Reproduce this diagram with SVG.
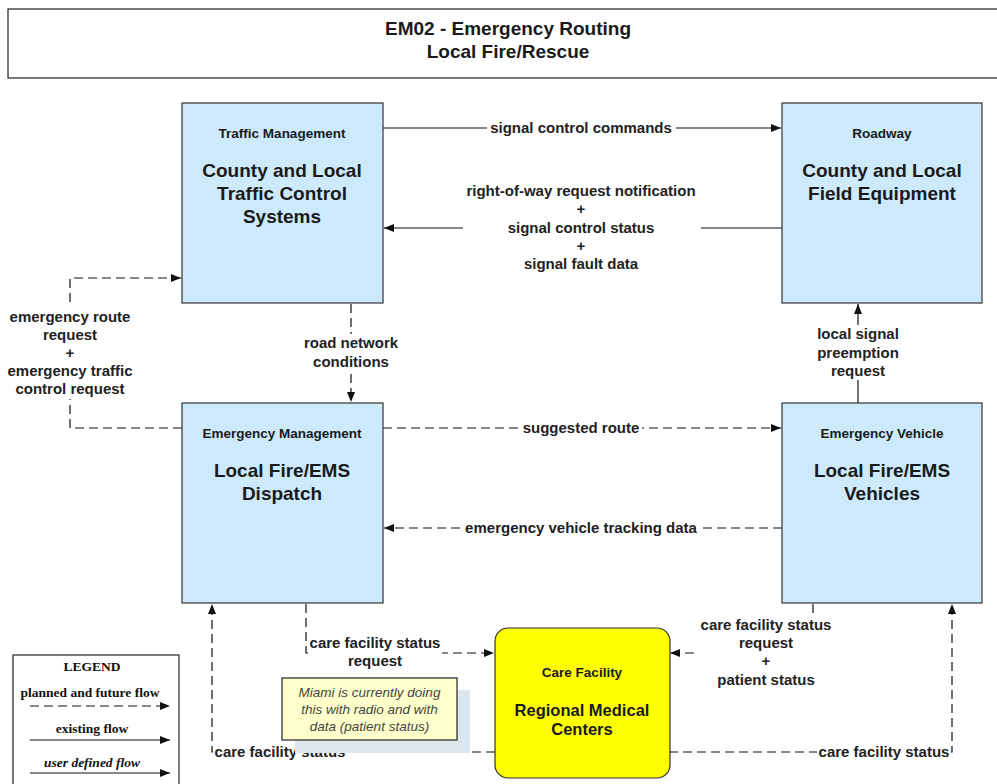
<svg xmlns="http://www.w3.org/2000/svg" width="997" height="784" viewBox="0 0 997 784">
<style>
.node{fill:#cdeafc;stroke:#333;stroke-width:1.2}
.t{font-family:"Liberation Sans",Arial,sans-serif;font-weight:bold;fill:#1a1a1a;text-anchor:middle}
.small{font-size:13.5px}
.big{font-size:19px}
.lbl{font-size:15px;fill:#222}
.ln{fill:none;stroke:#111;stroke-width:1.2}
.dash{stroke-dasharray:9 5}
.bg{fill:#fff}
.leg{font-family:"Liberation Serif","Times New Roman",serif;font-weight:bold;font-size:13.5px;fill:#111;text-anchor:middle}
</style>
<defs>
<marker id="ah" markerWidth="10" markerHeight="8" refX="10" refY="4" orient="auto" markerUnits="userSpaceOnUse">
<path d="M0,0 L10,4 L0,8 z" fill="#111"/>
</marker>
</defs>
<rect width="997" height="784" fill="#fff"/>

<g id="title">
<rect x="8" y="9" width="1000" height="69" fill="#fff" stroke="#222" stroke-width="1.2"/>
<text class="t big" x="508" y="35">EM02 - Emergency Routing</text>
<text class="t big" x="508" y="58">Local Fire/Rescue</text>
</g>

<g id="connectors">
<!-- signal control commands -->
<line class="ln" x1="383" y1="128" x2="781" y2="128" marker-end="url(#ah)"/>
<rect class="bg" x="487" y="119" width="189" height="18"/>
<text class="t lbl" x="581" y="133">signal control commands</text>
<!-- right-of-way -->
<line class="ln" x1="782" y1="228" x2="384" y2="228" marker-end="url(#ah)"/>
<rect class="bg" x="463" y="181" width="238" height="92"/>
<text class="t lbl" x="581" y="196">right-of-way request notification</text>
<text class="t lbl" x="581" y="214">+</text>
<text class="t lbl" x="581" y="233">signal control status</text>
<text class="t lbl" x="581" y="251">+</text>
<text class="t lbl" x="581" y="269">signal fault data</text>
<!-- road network conditions -->
<line class="ln dash" x1="351" y1="304" x2="351" y2="402" marker-end="url(#ah)"/>
<rect class="bg" x="302" y="334" width="98" height="38"/>
<text class="t lbl" x="351" y="348">road network</text>
<text class="t lbl" x="351" y="367">conditions</text>
<!-- emergency route request -->
<polyline class="ln dash" points="182,428 70,428 70,278 181,278" marker-end="url(#ah)"/>
<rect class="bg" x="4" y="305" width="132" height="94"/>
<text class="t lbl" x="70" y="322">emergency route</text>
<text class="t lbl" x="70" y="340">request</text>
<text class="t lbl" x="70" y="358">+</text>
<text class="t lbl" x="70" y="376">emergency traffic</text>
<text class="t lbl" x="70" y="394">control request</text>
<!-- suggested route -->
<line class="ln dash" x1="383" y1="428" x2="781" y2="428" marker-end="url(#ah)"/>
<rect class="bg" x="520" y="419" width="122" height="18"/>
<text class="t lbl" x="581" y="433">suggested route</text>
<!-- emergency vehicle tracking data -->
<line class="ln dash" x1="782" y1="528" x2="384" y2="528" marker-end="url(#ah)"/>
<rect class="bg" x="462" y="519" width="238" height="18"/>
<text class="t lbl" x="581" y="533">emergency vehicle tracking data</text>
<!-- local signal preemption request -->
<line class="ln" x1="858" y1="403" x2="858" y2="304" marker-end="url(#ah)"/>
<rect class="bg" x="812" y="325" width="92" height="55"/>
<text class="t lbl" x="858" y="339">local signal</text>
<text class="t lbl" x="858" y="358">preemption</text>
<text class="t lbl" x="858" y="376">request</text>
<!-- care facility status request (EM) -->
<polyline class="ln dash" points="306,604 306,653 494,653" marker-end="url(#ah)"/>
<rect class="bg" x="308" y="634" width="134" height="38"/>
<text class="t lbl" x="375" y="648">care facility status</text>
<text class="t lbl" x="375" y="666">request</text>
<!-- care facility status request + patient status (EV) -->
<polyline class="ln dash" points="813,604 813,653 670,653" marker-end="url(#ah)"/>
<rect class="bg" x="697" y="615" width="138" height="74"/>
<text class="t lbl" x="766" y="630">care facility status</text>
<text class="t lbl" x="766" y="648">request</text>
<text class="t lbl" x="766" y="666">+</text>
<text class="t lbl" x="766" y="685">patient status</text>
<!-- care facility status to EM -->
<polyline class="ln dash" points="495,752 212,752 212,604" marker-end="url(#ah)"/>
<rect class="bg" x="213" y="743" width="134" height="18"/>
<text class="t lbl" x="280" y="757">care facility status</text>
<!-- care facility status to EV -->
<polyline class="ln dash" points="669,752 952,752 952,604" marker-end="url(#ah)"/>
<rect class="bg" x="817" y="743" width="134" height="18"/>
<text class="t lbl" x="884" y="757">care facility status</text>
</g>

<g id="traffic-management">
<rect class="node" x="182" y="103" width="201" height="200"/>
<text class="t small" x="282" y="138">Traffic Management</text>
<text class="t big" x="282" y="177">County and Local</text>
<text class="t big" x="282" y="200">Traffic Control</text>
<text class="t big" x="282" y="223">Systems</text>
</g>

<g id="roadway">
<rect class="node" x="782" y="103" width="200" height="200"/>
<text class="t small" x="882" y="138">Roadway</text>
<text class="t big" x="882" y="177">County and Local</text>
<text class="t big" x="882" y="200">Field Equipment</text>
</g>

<g id="emergency-management">
<rect class="node" x="182" y="403" width="201" height="200"/>
<text class="t small" x="282" y="438">Emergency Management</text>
<text class="t big" x="282" y="477">Local Fire/EMS</text>
<text class="t big" x="282" y="500">Dispatch</text>
</g>

<g id="emergency-vehicle">
<rect class="node" x="782" y="403" width="200" height="200"/>
<text class="t small" x="882" y="438">Emergency Vehicle</text>
<text class="t big" x="882" y="477">Local Fire/EMS</text>
<text class="t big" x="882" y="500">Vehicles</text>
</g>

<g id="care-facility">
<rect x="495" y="628" width="175" height="150" rx="13" ry="13" fill="#ffff00" stroke="#333" stroke-width="1.2"/>
<text class="t small" x="582" y="677">Care Facility</text>
<text class="t" font-size="16.5" x="582" y="716">Regional Medical</text>
<text class="t" font-size="16.5" x="582" y="735">Centers</text>
</g>

<g id="note">
<rect x="295" y="690" width="175" height="63" fill="#dde6ec"/>
<rect x="282" y="678" width="175" height="62" fill="#ffffcc" stroke="#222" stroke-width="1.2"/>
<g font-family="'Liberation Sans',Arial,sans-serif" font-style="italic" font-size="13.5" fill="#444" text-anchor="middle">
<text x="369.5" y="697">Miami is currently doing</text>
<text x="369.5" y="714">this with radio and with</text>
<text x="369.5" y="731">data (patient status)</text>
</g>
</g>

<g id="legend">
<rect x="13" y="655" width="166" height="140" fill="#fff" stroke="#222" stroke-width="1.2"/>
<text class="leg" x="92" y="671">LEGEND</text>
<text class="leg" x="90" y="697">planned and future flow</text>
<line class="ln dash" x1="30" y1="706" x2="170" y2="706" marker-end="url(#ah)"/>
<text class="leg" x="92" y="733">existing flow</text>
<line class="ln" x1="30" y1="740" x2="170" y2="740" marker-end="url(#ah)"/>
<text class="leg" x="92" y="767" font-style="italic">user defined flow</text>
<line class="ln" x1="30" y1="773" x2="170" y2="773" marker-end="url(#ah)"/>
</g>
</svg>
